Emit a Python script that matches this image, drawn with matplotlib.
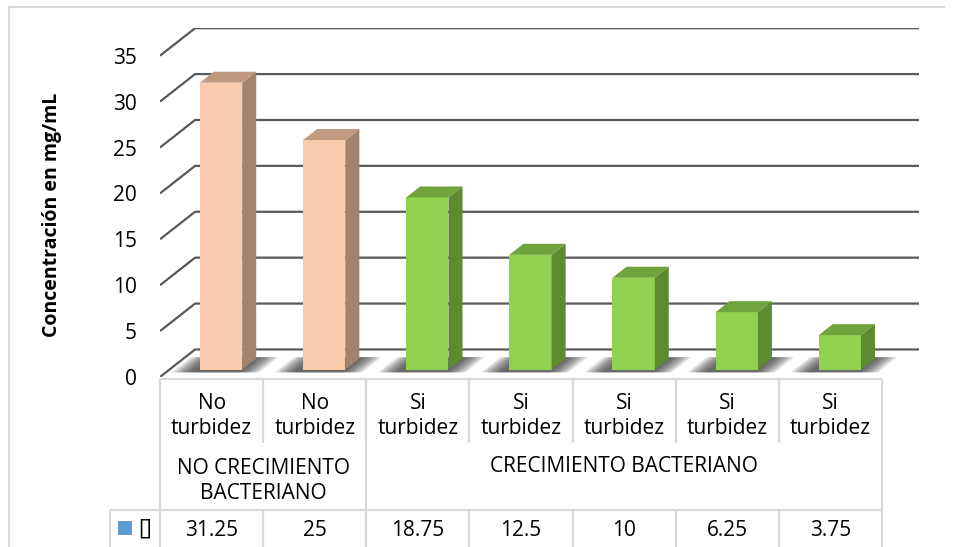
import matplotlib
matplotlib.use("Agg")
import matplotlib.pyplot as plt
from matplotlib.patches import Polygon, Rectangle
from matplotlib.lines import Line2D

# datos del ensayo de concentración mínima inhibitoria
turbidez = ["No\nturbidez", "No\nturbidez", "Si\nturbidez", "Si\nturbidez",
            "Si\nturbidez", "Si\nturbidez", "Si\nturbidez"]
grupos = ["NO CRECIMIENTO\nBACTERIANO", "CRECIMIENTO BACTERIANO"]
grupo_n = [2, 5]
concentracion = [31.25, 25, 18.75, 12.5, 10, 6.25, 3.75]
etiquetas = ["31.25", "25", "18.75", "12.5", "10", "6.25", "3.75"]

W, H = 954, 547
FUENTE = "Open Sans"
plt.rcParams["font.family"] = FUENTE
plt.rcParams["font.size"] = 15

# colores cara frontal / lateral / superior
COL_NO = ("#F8CBAD", "#A2836D", "#C09A80")
COL_SI = ("#92D050", "#5E8A30", "#70A33C")
GRID = "#595959"
TABLA = "#D9D9D9"

# profundidad del "3D" en unidades de datos
DX, DY = 0.34, 3.0
ANCHO = 0.41
P0, P1 = 0.27, 0.67  # la barra ocupa esta fracción de la profundidad

fig = plt.figure(figsize=(W / 100, H / 100), dpi=100)
fig.patch.set_facecolor("white")

xu = 103.14  # px por categoría
ax = fig.add_axes([160 / W, 1 - 377 / H, (919 - 160) / W, (377 - 28) / H])
xmax = -0.5 + (919 - 160) / xu
ax.set_xlim(-0.5, xmax)
ax.set_ylim(0, 38.02)
for s in ax.spines.values():
    s.set_visible(False)
ax.set_xticks([])
ax.set_yticks(range(0, 40, 5))
ax.tick_params(axis="y", length=0, pad=16.5, labelsize=15)
ax.patch.set_alpha(0)

# paredes: líneas de división en el lateral y al fondo
for v in range(0, 40, 5):
    ax.plot([-0.5, -0.5 + DX, xmax], [v, v + DY, v + DY], color=GRID, lw=1.6,
            solid_capstyle="butt", zorder=1)

# sombras difusas sobre el piso
for i, v in enumerate(concentracion):
    xa = i - ANCHO / 2
    for k in range(10):
        e = 0.02 + k * 0.02
        d0, d1 = 0.17, 0.72
        pts = [(xa - e - 0.04 + d0 * DX, d0 * DY), (xa + ANCHO + e + d0 * DX, d0 * DY),
               (xa + ANCHO + e + d1 * DX, d1 * DY), (xa - e - 0.04 + d1 * DX, d1 * DY)]
        ax.add_patch(Polygon(pts, closed=True, facecolor="#2a2a2a", edgecolor="none",
                             alpha=0.11, zorder=2))

# barras en 3D
for i, v in enumerate(concentracion):
    frente, lado, techo = COL_NO if i < grupo_n[0] else COL_SI
    x0 = i - ANCHO / 2 + P0 * DX
    y0 = P0 * DY
    ddx, ddy = (P1 - P0) * DX, (P1 - P0) * DY
    ax.add_patch(Rectangle((x0, y0), ANCHO, v, facecolor=frente, edgecolor="none", zorder=4))
    ax.add_patch(Polygon([(x0 + ANCHO, y0), (x0 + ANCHO + ddx, y0 + ddy),
                          (x0 + ANCHO + ddx, y0 + ddy + v), (x0 + ANCHO, y0 + v)],
                         closed=True, facecolor=lado, edgecolor="none", zorder=4))
    ax.add_patch(Polygon([(x0, y0 + v), (x0 + ANCHO, y0 + v),
                          (x0 + ANCHO + ddx, y0 + v + ddy), (x0 + ddx, y0 + v + ddy)],
                         closed=True, facecolor=techo, edgecolor="none", zorder=4))

ax.set_ylabel("Concentración en mg/mL", fontweight="bold", fontsize=14, labelpad=0)
ax.yaxis.set_label_coords(-(160 - 62) / (919 - 160), (377 - 215) / (377 - 28))

# tabla de datos
tx = fig.add_axes([160 / W, 0, (919 - 160) / W, (547 - 377) / H])
tx.set_xlim(-0.5, xmax)
tx.set_ylim(547, 377)
tx.axis("off")
lk = dict(color=TABLA, lw=1.6, clip_on=False, solid_capstyle="butt")
xl = -0.5 - 50 / xu
n = len(concentracion)
tx.plot([-0.5, n - 0.5], [379, 379], **lk)
tx.plot([xl, n - 0.5], [510, 510], **lk)
tx.plot([-0.5, -0.5], [379, 547], **lk)
tx.plot([xl, xl], [510, 547], **lk)
tx.plot([n - 0.5, n - 0.5], [379, 547], **lk)
for i in range(n - 1):
    tx.plot([i + 0.5, i + 0.5], [379, 443], **lk)
    tx.plot([i + 0.5, i + 0.5], [510, 547], **lk)
tx.plot([grupo_n[0] - 0.5] * 2, [379, 547], **lk)

for i, t in enumerate(turbidez):
    tx.text(i, 416, t, ha="center", va="center", linespacing=1.3, color="black")
    tx.text(i, 530, etiquetas[i], ha="center", va="center", color="black")

tx.text((grupo_n[0] - 1) / 2, 481, grupos[0], ha="center", va="center", linespacing=1.3)
tx.text(grupo_n[0] + (grupo_n[1] - 1) / 2, 467, grupos[1], ha="center", va="center")

# clave de la serie
tx.add_patch(Rectangle((-0.5 - 42 / xu, 534), 13 / xu, -13, facecolor="#5B9BD5",
                       edgecolor="#4A86C5", lw=0.5, clip_on=False))
tx.text(-0.5 - 15 / xu, 529, "[]", ha="center", va="center", clip_on=False)

# borde del área del gráfico
fig.add_artist(Line2D([9 / W, 9 / W], [0, 1 - 7 / H], color=TABLA, lw=1.5))
fig.add_artist(Line2D([9 / W, 944 / W], [1 - 7 / H, 1 - 7 / H], color=TABLA, lw=1.5))

fig.savefig("out.png", dpi=100)
